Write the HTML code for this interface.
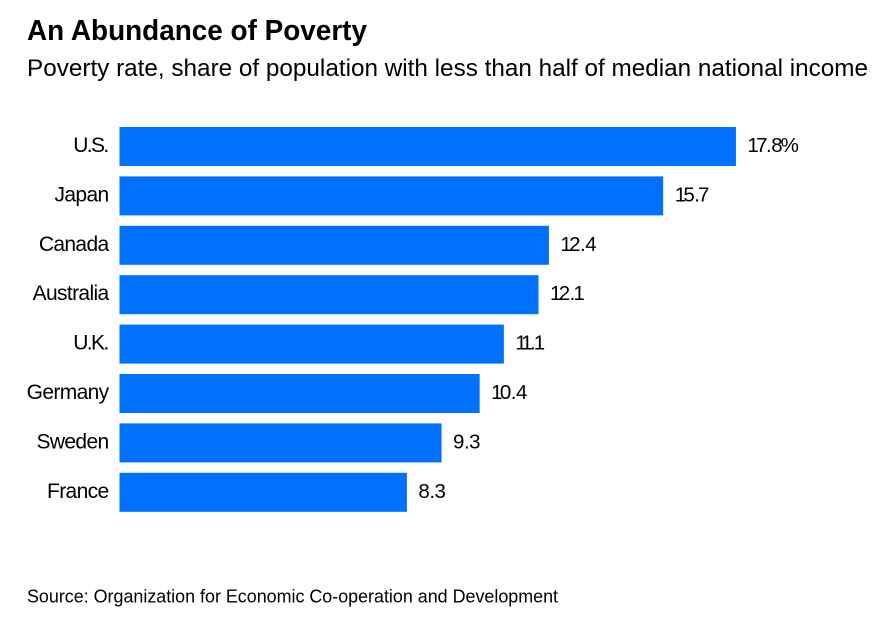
<!DOCTYPE html>
<html lang="en">
<head>
<meta charset="utf-8">
<title>An Abundance of Poverty</title>
<style>
html,body{margin:0;padding:0;background:#fff;width:886px;height:626px;overflow:hidden}
svg{display:block}
text{font-family:"Liberation Sans",sans-serif;fill:#000}
</style>
</head>
<body>
<svg id="chart" width="886" height="626" viewBox="0 0 886 626" xmlns="http://www.w3.org/2000/svg">
<rect x="0" y="0" width="886" height="626" fill="#fff"/>
<text x="27" y="40" font-size="29" font-weight="700" textLength="340" lengthAdjust="spacingAndGlyphs">An Abundance of Poverty</text>
<text x="27" y="76" font-size="24.5" textLength="841" lengthAdjust="spacingAndGlyphs">Poverty rate, share of population with less than half of median national income</text>
<g id="bars"></g>
<text x="27" y="602.5" font-size="18" textLength="531" lengthAdjust="spacingAndGlyphs">Source: Organization for Economic Co-operation and Development</text>
</svg>
<script>
const categories = ["U.S.", "Japan", "Canada", "Australia", "U.K.", "Germany", "Sweden", "France"];
const povertyRates = [17.8, 15.7, 12.4, 12.1, 11.1, 10.4, 9.3, 8.3];
const valueLabels = ["17.8%", "15.7", "12.4", "12.1", "11.1", "10.4", "9.3", "8.3"];

const SVG_NS = "http://www.w3.org/2000/svg";
const group = document.getElementById("bars");
const xOrigin = 119.5;
const pxPerUnit = 34.63;
const firstTop = 127;
const rowStep = 49.4;
const barHeight = 39;
const xScale = function (v) { return xOrigin + v * pxPerUnit; };
const yScale = function (i) { return firstTop + i * rowStep; };

// Per-character tightening that approximates the reference typeface's narrow figures.
const valueKerning = function (str) {
  return str.split("").map(function (ch, j) {
    if (j === 0) return 0;
    const prev = str[j - 1];
    if (prev === "1" && ch === "1") return -3.5;
    if (prev === "1") return -2.2;
    if (prev === "." && (ch === "1" || ch === "7")) return -1.5;
    if (prev === "7" && ch === ".") return -1;
    if (ch === "%") return -1.5;
    return 0;
  }).join(" ");
};
const labelKerning = function (str) {
  return str.split("").map(function (ch, j) {
    return j > 0 && (ch === "." || str[j - 1] === ".") ? -1 : 0;
  }).join(" ");
};

categories.forEach(function (cat, i) {
  const slug = cat.toLowerCase().replace(/[^a-z]/g, "");
  const top = yScale(i);
  const end = xScale(povertyRates[i]);

  const label = document.createElementNS(SVG_NS, "text");
  label.setAttribute("x", xOrigin - 11);
  label.setAttribute("y", top + 25);
  label.setAttribute("text-anchor", "end");
  label.setAttribute("font-size", "21");
  label.setAttribute("letter-spacing", "-0.65");
  label.setAttribute("dx", labelKerning(cat));
  
  
  label.textContent = cat;
  group.appendChild(label);

  const bar = document.createElementNS(SVG_NS, "rect");
  bar.setAttribute("x", xOrigin);
  bar.setAttribute("y", top);
  bar.setAttribute("width", end - xOrigin);
  bar.setAttribute("height", barHeight);
  bar.setAttribute("fill", "#0070ff");
  bar.setAttribute("data-country", slug);
  
  
  group.appendChild(bar);

  const value = document.createElementNS(SVG_NS, "text");
  value.setAttribute("x", end + 11.5);
  value.setAttribute("y", top + 25);
  value.setAttribute("font-size", "20.5");
  value.setAttribute("letter-spacing", "-0.5");
  value.setAttribute("dx", valueKerning(valueLabels[i]));
  
  
  value.textContent = valueLabels[i];
  group.appendChild(value);
});
</script>
</body>
</html>
